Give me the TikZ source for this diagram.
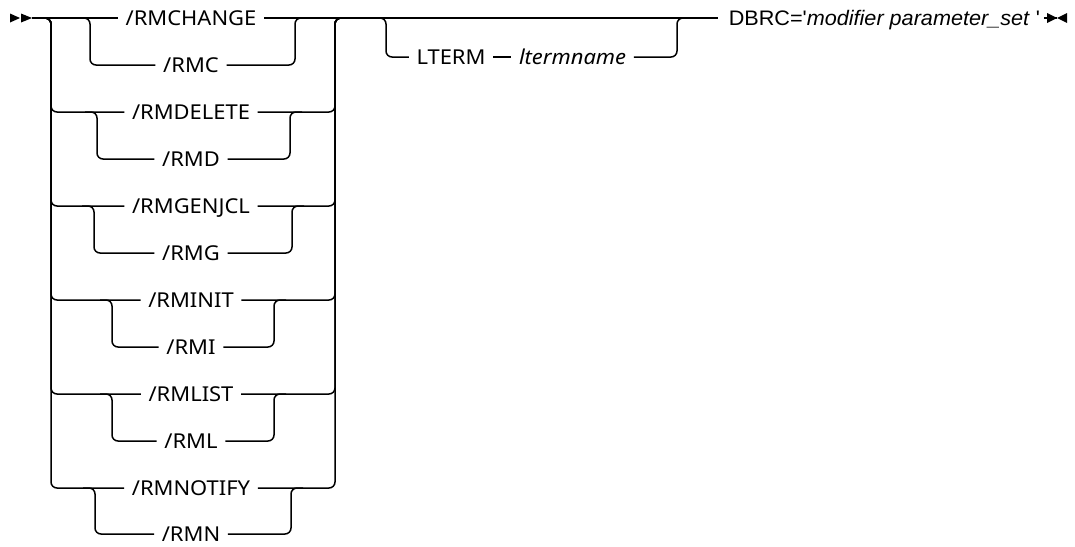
\documentclass[tikz,border=0pt]{standalone}
\usepackage{fontspec}
\setmainfont{Noto Sans}[FakeStretch=1.07]
\newfontfamily\arialfont{Liberation Sans}[FakeStretch=1.03]
\usepackage{tikz}
\usetikzlibrary{positioning,calc}

\begin{document}
\begin{tikzpicture}[x=1pt, y=-1pt, line width=1.5pt]
    \tikzstyle{kw} = [inner xsep=7pt, inner ysep=1pt, text height=14.5pt, text depth=0pt, font=\fontsize{20.5}{24}\selectfont]
    \tikzstyle{dbrc} = [inner xsep=3pt, inner ysep=1pt, text height=14.5pt, text depth=0pt, font=\arialfont\fontsize{21}{24}\selectfont, anchor=west]
    \tikzstyle{track} = [draw, rounded corners=6pt]

    \useasboundingbox (0,0) rectangle (1075,546);

    % start and end marks
    \coordinate (start) at (32,18);
    \coordinate (stop) at (1057,18);
    \fill (10,13.5) -- (20,18) -- (10,22.5) -- cycle;
    \fill (21,13.5) -- (32,18) -- (21,22.5) -- cycle;
    \fill (1047,13) -- (1057,18) -- (1047,23) -- cycle;
    \fill (1067,13) -- (1057,18) -- (1067,23) -- cycle;

    % first group: commands
    \node [kw] (chg)  at (191,18)  {/RMCHANGE};
    \node [kw] (chgs) at (191,65)  {/RMC};
    \node [kw] (del)  at (191,112) {/RMDELETE};
    \node [kw] (dels) at (191,159) {/RMD};
    \node [kw] (gen)  at (191,206) {/RMGENJCL};
    \node [kw] (gens) at (191,253) {/RMG};
    \node [kw] (ini)  at (191,300) {/RMINIT};
    \node [kw] (inis) at (191,347) {/RMI};
    \node [kw] (lst)  at (191,394) {/RMLIST};
    \node [kw] (lsts) at (191,441) {/RML};
    \node [kw] (ntf)  at (191,488) {/RMNOTIFY};
    \node [kw] (ntfs) at (191,534) {/RMN};

    % second group: optional LTERM
    \node [kw] (lt) at (451,57) {LTERM};
    \node [kw, right=18pt of lt] (ltn) {\textit{ltermname}};

    % last keyword
    \node [dbrc] (db) at (725,18) {DBRC='\textit{modifier parameter\_set} '};

    % main line
    \draw (start) -- (chg);
    \draw [shorten >=7pt] (chg) -- (db);
    \draw (db) -- (stop);

    % left branches
    \draw [track] (41,18) -- (51,18) -- (51,112) -- (del.west);
    \draw [track] (41,18) -- (51,18) -- (51,206) -- (gen.west);
    \draw [track] (41,18) -- (51,18) -- (51,300) -- (ini.west);
    \draw [track] (41,18) -- (51,18) -- (51,394) -- (lst.west);
    \draw [track] (41,18) -- (51,18) -- (51,488) -- (ntf.west);

    % right branches
    \draw [track] (del.east) -- (335,112) -- (335,18) -- (347,18);
    \draw [track] (gen.east) -- (335,206) -- (335,18) -- (347,18);
    \draw [track] (ini.east) -- (335,300) -- (335,18) -- (347,18);
    \draw [track] (lst.east) -- (335,394) -- (335,18) -- (347,18);
    \draw [track] (ntf.east) -- (335,488) -- (335,18) -- (347,18);

    % short forms
    \draw [track] (78,18) -- (90,18) -- (90,65) -- (chgs.west);
    \draw [track] (chgs.east) -- (295,65) -- (295,18) -- (307,18);
    \draw [track] (85,112) -- (97,112) -- (97,159) -- (dels.west);
    \draw [track] (dels.east) -- (290,159) -- (290,112) -- (302,112);
    \draw [track] (82,206) -- (94,206) -- (94,253) -- (gens.west);
    \draw [track] (gens.east) -- (292,253) -- (292,206) -- (304,206);
    \draw [track] (100,300) -- (112,300) -- (112,347) -- (inis.west);
    \draw [track] (inis.east) -- (274,347) -- (274,300) -- (286,300);
    \draw [track] (100,394) -- (112,394) -- (112,441) -- (lsts.west);
    \draw [track] (lsts.east) -- (274,441) -- (274,394) -- (286,394);
    \draw [track] (83,488) -- (95,488) -- (95,534) -- (ntfs.west);
    \draw [track] (ntfs.east) -- (291,534) -- (291,488) -- (303,488);

    % LTERM branch
    \draw [track] (374,18) -- (386,18) -- (386,57) -- (lt.west);
    \draw (lt) -- (ltn);
    \draw [track] (ltn.east) -- (677,57) -- (677,18) -- (689,18);
\end{tikzpicture}
\end{document}
